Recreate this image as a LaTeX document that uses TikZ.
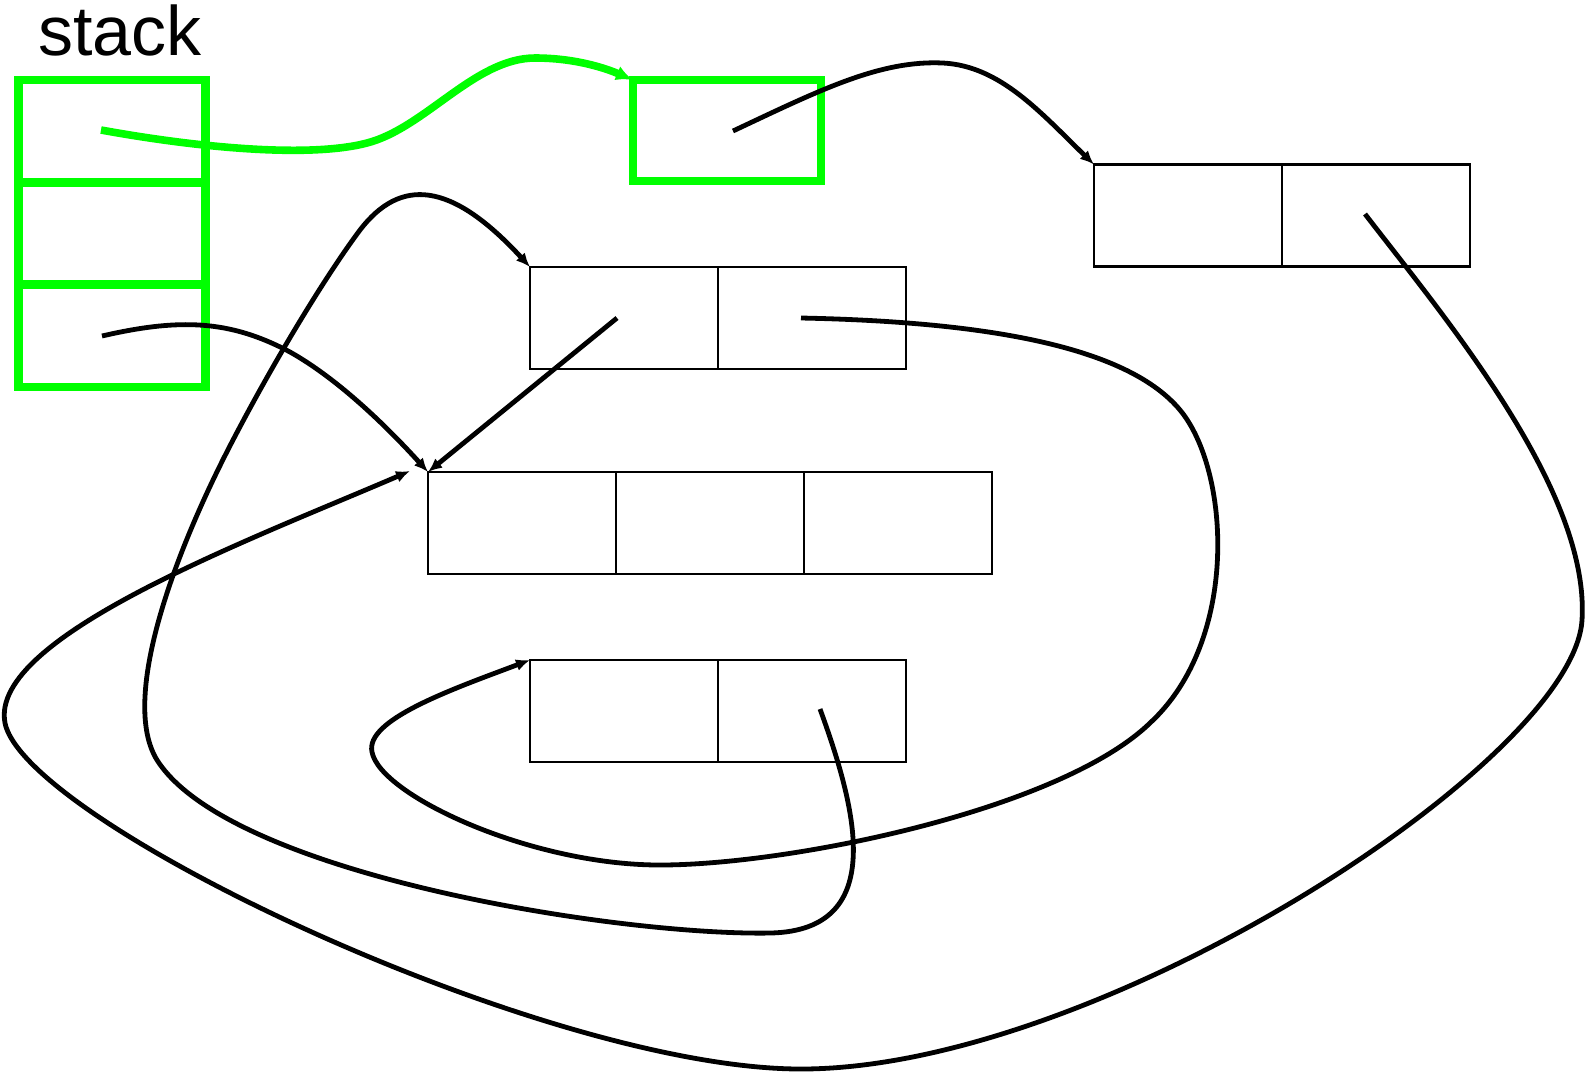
\documentclass[tikz,border=0pt]{standalone}
\usepackage{fontspec}
\setmainfont{Liberation Sans}
\usetikzlibrary{arrows.meta}
\definecolor{stackgreen}{RGB}{0,255,0}

\begin{document}
\begin{tikzpicture}[x=0.5pt,y=-0.5pt,
    cell/.style={draw,line width=1.3pt,minimum width=94pt,minimum height=51pt,inner sep=0pt,outer sep=0pt},
    slot/.style={draw=stackgreen,line width=4.2pt,minimum width=93.5pt,minimum height=51pt,inner sep=0pt,outer sep=0pt},
    ptr/.style={line width=2.4pt,-{Latex[length=7pt,width=6pt]}},
    gptr/.style={draw=stackgreen,line width=3.8pt,-{Latex[length=8.5pt,width=7.5pt]}}]
      \useasboundingbox (0,0) rectangle (1590,1073);
      \node (title) at (38,55) [anchor=base west,inner sep=0pt,font=\fontsize{35}{40}\selectfont] {stack};
      % the stack
      \node (s1) at (112,131) [slot] {};
      \node (s2) at (112,233.5) [slot] {};
      \node (s3) at (112,336) [slot] {};
      \node (g) at (727,130.5) [slot,minimum width=94pt,minimum height=50.5pt] {};
      % the heap cells
      \node (a1) at (1188,215.5) [cell] {};
      \node (a2) at (1376,215.5) [cell] {};
      \node (b1) at (624,318) [cell] {};
      \node (b2) at (812,318) [cell] {};
      \node (c1) at (522,523) [cell] {};
      \node (c2) at (710,523) [cell] {};
      \node (c3) at (898,523) [cell] {};
      \node (d1) at (624,711) [cell] {};
      \node (d2) at (812,711) [cell] {};
      \coordinate (ps1) at (101,130);
      \coordinate (ps3) at (102,336);
      \coordinate (pg) at (733,131);
      \coordinate (pa2) at (1365,214);
      \coordinate (pb1) at (617,318);
      \coordinate (pb2) at (801,318);
      \coordinate (pd2) at (820,709);
      \coordinate (cin) at (410,471);
      % pointers
      \draw [gptr] (ps1) .. controls (200,148) and (310,158) .. (367,143) .. controls (425,128) and (475,58) .. (535,58) .. controls (575,58) and (605,68) .. (g.north west);
      \draw [ptr] (pg) .. controls (820,90) and (880,60) .. (943,63) .. controls (1000,66) and (1040,112) .. (a1.north west);
      \draw [ptr] (ps3) .. controls (180,318) and (230,320) .. (290,352) .. controls (340,380) and (390,430) .. (c1.north west);
      \draw [ptr] (pb1) -- (c1.north west);
      \draw [ptr] (pb2) .. controls (1000,322) and (1130,350) .. (1180,410) .. controls (1230,470) and (1240,640) .. (1150,723) .. controls (1060,810) and (790,865) .. (660,865) .. controls (530,865) and (380,795) .. (372,752) .. controls (365,720) and (450,690) .. (d1.north west);
      \draw [ptr] (pd2) .. controls (855,805) and (890,930) .. (771,933) .. controls (620,936) and (230,875) .. (157,760) .. controls (120,700) and (173,555) .. (233,440) .. controls (280,350) and (330,270) .. (360,230) .. controls (400,178) and (450,180) .. (b1.north west);
      \draw [ptr] (pa2) .. controls (1445,318) and (1590,490) .. (1582,620) .. controls (1574,760) and (1100,1069) .. (801,1069) .. controls (550,1069) and (40,830) .. (6,727) .. controls (-20,640) and (250,540) .. (cin);
\end{tikzpicture}
\end{document}
